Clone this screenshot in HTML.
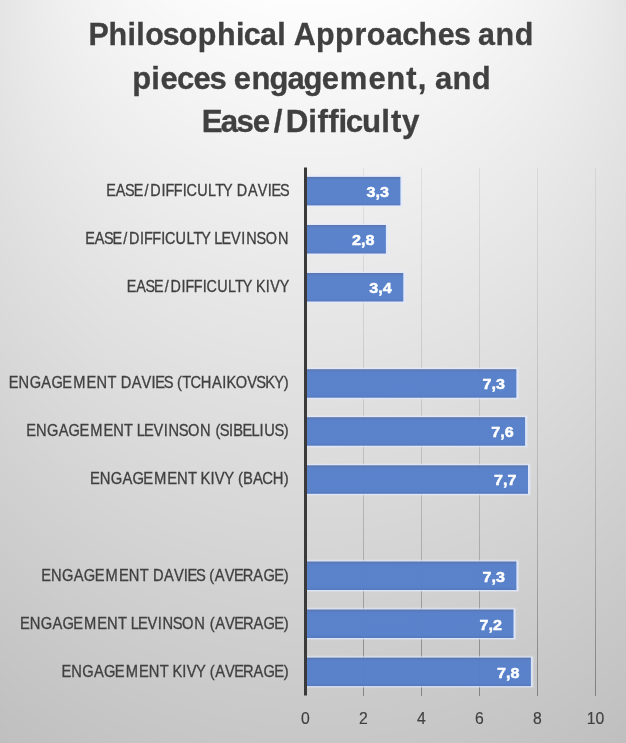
<!DOCTYPE html>
<html lang="en">
<head>
<meta charset="utf-8">
<title>Philosophical Approaches and pieces engagement, and Ease/Difficulty</title>
<style>
html,body{margin:0;padding:0;background:#d9d9d9;}
body{width:626px;height:743px;overflow:hidden;}
svg{display:block;}
text{font-family:"Liberation Sans",sans-serif;white-space:pre;}
.title{font-weight:bold;fill:#404040;stroke:#404040;stroke-width:0.3px;}
.cat{fill:#404040;stroke:#404040;stroke-width:0.3px;}
.val{font-weight:bold;fill:#fff;stroke:#fff;stroke-width:0.45px;}
.ax{fill:#404040;stroke:#404040;stroke-width:0.15px;}
</style>
</head>
<body>
<svg width="626" height="743" viewBox="0 0 626 743">
<defs>
<linearGradient id="gl" gradientUnits="userSpaceOnUse" x1="0" y1="168" x2="0" y2="696">
<stop offset="0" stop-color="#000" stop-opacity="0.065"/>
<stop offset="0.5" stop-color="#000" stop-opacity="0.12"/>
<stop offset="0.75" stop-color="#000" stop-opacity="0.2"/>
<stop offset="1" stop-color="#000" stop-opacity="0.35"/>
</linearGradient>
<linearGradient id="bar" x1="0" y1="0" x2="0" y2="1">
<stop offset="0" stop-color="#46629f"/>
<stop offset="0.11" stop-color="#4472c4"/>
<stop offset="0.9" stop-color="#4472c4"/>
<stop offset="1" stop-color="#3f66b2"/>
</linearGradient>
<clipPath id="vp"><rect x="0" y="0" width="626" height="743"/></clipPath>
</defs>
<rect x="0" y="0" width="626" height="743" fill="#bfbfbf"/>
<g clip-path="url(#vp)">
<path fill="#c0c0c0" d="M313 -594.4L730.87 123.75A483.46 483.46 0 1 1 -104.87 123.75Z"/>
<path fill="#c1c1c1" d="M313 -594.4L726.87 116.87A478.83 478.83 0 1 1 -100.87 116.87Z"/>
<path fill="#c2c2c2" d="M313 -594.4L722.87 109.99A474.20 474.20 0 1 1 -96.87 109.99Z"/>
<path fill="#c3c3c3" d="M313 -594.4L718.87 103.12A469.57 469.57 0 1 1 -92.87 103.12Z"/>
<path fill="#c4c4c4" d="M313 -594.4L714.86 96.24A464.94 464.94 0 1 1 -88.86 96.24Z"/>
<path fill="#c5c5c5" d="M313 -594.4L710.86 89.36A460.31 460.31 0 1 1 -84.86 89.36Z"/>
<path fill="#c6c6c6" d="M313 -594.4L706.86 82.48A455.68 455.68 0 1 1 -80.86 82.48Z"/>
<path fill="#c7c7c7" d="M313 -594.4L702.86 75.61A451.05 451.05 0 1 1 -76.86 75.61Z"/>
<path fill="#c8c8c8" d="M313 -594.4L698.86 68.73A446.42 446.42 0 1 1 -72.86 68.73Z"/>
<path fill="#c9c9c9" d="M313 -594.4L694.85 61.85A441.79 441.79 0 1 1 -68.85 61.85Z"/>
<path fill="#cacaca" d="M313 -594.4L690.85 54.97A437.16 437.16 0 1 1 -64.85 54.97Z"/>
<path fill="#cbcbcb" d="M313 -594.4L686.85 48.09A432.53 432.53 0 1 1 -60.85 48.09Z"/>
<path fill="#cccccc" d="M313 -594.4L682.85 41.22A427.90 427.90 0 1 1 -56.85 41.22Z"/>
<path fill="#cdcdcd" d="M313 -594.4L678.85 34.34A423.27 423.27 0 1 1 -52.85 34.34Z"/>
<path fill="#cecece" d="M313 -594.4L674.84 27.46A418.64 418.64 0 1 1 -48.84 27.46Z"/>
<path fill="#cfcfcf" d="M313 -594.4L670.84 20.58A414.01 414.01 0 1 1 -44.84 20.58Z"/>
<path fill="#d0d0d0" d="M313 -594.4L666.84 13.71A409.38 409.38 0 1 1 -40.84 13.71Z"/>
<path fill="#d1d1d1" d="M313 -594.4L662.84 6.83A404.75 404.75 0 1 1 -36.84 6.83Z"/>
<path fill="#d2d2d2" d="M313 -594.4L658.84 -0.05A400.12 400.12 0 1 1 -32.84 -0.05Z"/>
<path fill="#d3d3d3" d="M313 -594.4L654.84 -6.93A395.49 395.49 0 1 1 -28.84 -6.93Z"/>
<path fill="#d4d4d4" d="M313 -594.4L650.83 -13.80A390.86 390.86 0 1 1 -24.83 -13.80Z"/>
<path fill="#d5d5d5" d="M313 -594.4L646.83 -20.68A386.23 386.23 0 1 1 -20.83 -20.68Z"/>
<path fill="#d6d6d6" d="M313 -594.4L642.83 -27.56A381.60 381.60 0 1 1 -16.83 -27.56Z"/>
<path fill="#d7d7d7" d="M313 -594.4L638.83 -34.44A376.97 376.97 0 1 1 -12.83 -34.44Z"/>
<path fill="#d8d8d8" d="M313 -594.4L634.83 -41.31A372.34 372.34 0 1 1 -8.83 -41.31Z"/>
<path fill="#d9d9d9" d="M313 -594.4L630.82 -48.19A367.71 367.71 0 1 1 -4.82 -48.19Z"/>
<path fill="#dadada" d="M313 -594.4L626.82 -55.07A363.08 363.08 0 1 1 -0.82 -55.07Z"/>
<path fill="#dbdbdb" d="M313 -594.4L622.82 -61.95A358.45 358.45 0 1 1 3.18 -61.95Z"/>
<path fill="#dcdcdc" d="M313 -594.4L618.82 -68.82A353.82 353.82 0 1 1 7.18 -68.82Z"/>
<path fill="#dddddd" d="M313 -594.4L614.82 -75.70A349.19 349.19 0 1 1 11.18 -75.70Z"/>
<path fill="#dedede" d="M313 -594.4L610.81 -82.58A344.56 344.56 0 1 1 15.19 -82.58Z"/>
<path fill="#dfdfdf" d="M313 -594.4L606.81 -89.46A339.93 339.93 0 1 1 19.19 -89.46Z"/>
<path fill="#e0e0e0" d="M313 -594.4L602.81 -96.34A335.30 335.30 0 1 1 23.19 -96.34Z"/>
<path fill="#e1e1e1" d="M313 -594.4L598.81 -103.21A330.67 330.67 0 1 1 27.19 -103.21Z"/>
<path fill="#e2e2e2" d="M313 -594.4L594.81 -110.09A326.04 326.04 0 1 1 31.19 -110.09Z"/>
<path fill="#e3e3e3" d="M313 -594.4L590.80 -116.97A321.41 321.41 0 1 1 35.20 -116.97Z"/>
<path fill="#e4e4e4" d="M313 -594.4L586.80 -123.85A316.78 316.78 0 1 1 39.20 -123.85Z"/>
<path fill="#e5e5e5" d="M313 -594.4L582.80 -130.72A312.15 312.15 0 1 1 43.20 -130.72Z"/>
<path fill="#e6e6e6" d="M313 -594.4L578.80 -137.60A307.52 307.52 0 1 1 47.20 -137.60Z"/>
<path fill="#e7e7e7" d="M313 -594.4L574.80 -144.48A302.89 302.89 0 1 1 51.20 -144.48Z"/>
<path fill="#e8e8e8" d="M313 -594.4L570.80 -151.36A298.26 298.26 0 1 1 55.20 -151.36Z"/>
<path fill="#e9e9e9" d="M313 -594.4L566.79 -158.23A293.63 293.63 0 1 1 59.21 -158.23Z"/>
<path fill="#eaeaea" d="M313 -594.4L562.79 -165.11A289.00 289.00 0 1 1 63.21 -165.11Z"/>
<path fill="#ebebeb" d="M313 -594.4L558.79 -171.99A284.37 284.37 0 1 1 67.21 -171.99Z"/>
<path fill="#ececec" d="M313 -594.4L554.79 -178.87A279.74 279.74 0 1 1 71.21 -178.87Z"/>
<path fill="#ededed" d="M313 -594.4L550.79 -185.74A275.11 275.11 0 1 1 75.21 -185.74Z"/>
<path fill="#eeeeee" d="M313 -594.4L546.78 -192.62A270.48 270.48 0 1 1 79.22 -192.62Z"/>
<path fill="#efefef" d="M313 -594.4L542.78 -199.50A265.85 265.85 0 1 1 83.22 -199.50Z"/>
<path fill="#f0f0f0" d="M313 -594.4L538.78 -206.38A261.22 261.22 0 1 1 87.22 -206.38Z"/>
<path fill="#f1f1f1" d="M313 -594.4L534.78 -213.26A256.59 256.59 0 1 1 91.22 -213.26Z"/>
<path fill="#f2f2f2" d="M313 -594.4L530.78 -220.13A251.96 251.96 0 1 1 95.22 -220.13Z"/>
<path fill="#f3f3f3" d="M313 -594.4L526.77 -227.01A247.33 247.33 0 1 1 99.23 -227.01Z"/>
<path fill="#f4f4f4" d="M313 -594.4L522.77 -233.89A242.70 242.70 0 1 1 103.23 -233.89Z"/>
<path fill="#f5f5f5" d="M313 -594.4L518.77 -240.77A238.07 238.07 0 1 1 107.23 -240.77Z"/>
<path fill="#f6f6f6" d="M313 -594.4L514.77 -247.64A233.44 233.44 0 1 1 111.23 -247.64Z"/>
<path fill="#f7f7f7" d="M313 -594.4L510.77 -254.52A228.81 228.81 0 1 1 115.23 -254.52Z"/>
<path fill="#f8f8f8" d="M313 -594.4L506.76 -261.40A224.18 224.18 0 1 1 119.24 -261.40Z"/>
<path fill="#f9f9f9" d="M313 -594.4L502.76 -268.28A219.55 219.55 0 1 1 123.24 -268.28Z"/>
<path fill="#fafafa" d="M313 -594.4L498.76 -275.15A214.92 214.92 0 1 1 127.24 -275.15Z"/>
<path fill="#fbfbfb" d="M313 -594.4L494.76 -282.03A210.29 210.29 0 1 1 131.24 -282.03Z"/>
<path fill="#fcfcfc" d="M313 -594.4L490.76 -288.91A205.66 205.66 0 1 1 135.24 -288.91Z"/>
<path fill="#fdfdfd" d="M313 -594.4L486.75 -295.79A201.03 201.03 0 1 1 139.25 -295.79Z"/>
<path fill="#fefefe" d="M313 -594.4L482.75 -302.66A196.40 196.40 0 1 1 143.25 -302.66Z"/>
<path fill="#ffffff" d="M313 -594.4L478.75 -309.54A191.77 191.77 0 1 1 147.25 -309.54Z"/>
</g>
<rect x="363" y="168" width="1" height="528" fill="url(#gl)"/>
<rect x="421" y="168" width="1" height="528" fill="url(#gl)"/>
<rect x="479" y="168" width="1" height="528" fill="url(#gl)"/>
<rect x="537" y="168" width="1" height="528" fill="url(#gl)"/>
<rect x="595" y="168" width="1" height="528" fill="url(#gl)"/>
<rect x="306.5" y="174.9" width="96.7" height="32.5" fill="#e6edff" fill-opacity="0.3"/>
<rect x="306.5" y="175.9" width="95.7" height="30.5" fill="#dfe8ff" fill-opacity="0.75"/>
<rect x="306.5" y="176.9" width="93.9" height="28.5" fill="url(#bar)" fill-opacity="0.86"/>
<rect x="306.5" y="223.0" width="82.2" height="32.5" fill="#e6edff" fill-opacity="0.3"/>
<rect x="306.5" y="224.0" width="81.2" height="30.5" fill="#dfe8ff" fill-opacity="0.75"/>
<rect x="306.5" y="225.0" width="79.4" height="28.5" fill="url(#bar)" fill-opacity="0.86"/>
<rect x="306.5" y="271.0" width="99.6" height="32.5" fill="#e6edff" fill-opacity="0.3"/>
<rect x="306.5" y="272.0" width="98.6" height="30.5" fill="#dfe8ff" fill-opacity="0.75"/>
<rect x="306.5" y="273.0" width="96.8" height="28.5" fill="url(#bar)" fill-opacity="0.86"/>
<rect x="306.5" y="367.2" width="212.7" height="32.5" fill="#e6edff" fill-opacity="0.3"/>
<rect x="306.5" y="368.2" width="211.7" height="30.5" fill="#dfe8ff" fill-opacity="0.75"/>
<rect x="306.5" y="369.2" width="209.9" height="28.5" fill="url(#bar)" fill-opacity="0.86"/>
<rect x="306.5" y="415.2" width="221.4" height="32.5" fill="#e6edff" fill-opacity="0.3"/>
<rect x="306.5" y="416.2" width="220.4" height="30.5" fill="#dfe8ff" fill-opacity="0.75"/>
<rect x="306.5" y="417.2" width="218.6" height="28.5" fill="url(#bar)" fill-opacity="0.86"/>
<rect x="306.5" y="463.3" width="224.3" height="32.5" fill="#e6edff" fill-opacity="0.3"/>
<rect x="306.5" y="464.3" width="223.3" height="30.5" fill="#dfe8ff" fill-opacity="0.75"/>
<rect x="306.5" y="465.3" width="221.5" height="28.5" fill="url(#bar)" fill-opacity="0.86"/>
<rect x="306.5" y="559.5" width="212.7" height="32.5" fill="#e6edff" fill-opacity="0.3"/>
<rect x="306.5" y="560.5" width="211.7" height="30.5" fill="#dfe8ff" fill-opacity="0.75"/>
<rect x="306.5" y="561.5" width="209.9" height="28.5" fill="url(#bar)" fill-opacity="0.86"/>
<rect x="306.5" y="607.5" width="209.8" height="32.5" fill="#e6edff" fill-opacity="0.3"/>
<rect x="306.5" y="608.5" width="208.8" height="30.5" fill="#dfe8ff" fill-opacity="0.75"/>
<rect x="306.5" y="609.5" width="207.0" height="28.5" fill="url(#bar)" fill-opacity="0.86"/>
<rect x="306.5" y="655.6" width="227.2" height="32.5" fill="#e6edff" fill-opacity="0.3"/>
<rect x="306.5" y="656.6" width="226.2" height="30.5" fill="#dfe8ff" fill-opacity="0.75"/>
<rect x="306.5" y="657.6" width="224.4" height="28.5" fill="url(#bar)" fill-opacity="0.86"/>
<rect x="304" y="167.5" width="3" height="528" fill="#3a3a3a"/>
<text class="cat" font-size="15.70" transform="translate(106.50 195.80) scale(0.9170 1)" x="-0.4 10.07 20.24 29.63 41.35 47.79 59.87 64.3 73.41 83.07 87.36 99 110.82 118.66 127.15 137.28 142.12 154.24 165.02 175.76 180.04 189.33">EASE/DIFFICULTY DAVIES</text>
<text class="val" font-size="14.11" transform="translate(366.47 196.90) scale(1.1433 1)" x="-0.01 7.85 11.78">3,3</text>
<text class="cat" font-size="15.70" transform="translate(85.76 243.87) scale(0.9206 1)" x="-0.46 9.86 19.91 29.17 40.78 47.08 59.04 63.38 72.37 81.94 86.12 97.61 109.3 117.02 125.39 135.42 139.56 147.57 157.89 168.96 174.24 185.48 195.57 208.79">EASE/DIFFICULTY LEVINSON</text>
<text class="val" font-size="14.11" transform="translate(351.97 244.97) scale(1.1433 1)" x="-0.01 7.85 11.78">2,8</text>
<text class="cat" font-size="15.70" transform="translate(127.02 291.94) scale(0.9141 1)" x="-0.42 10.01 20.15 29.5 41.19 47.58 59.63 64.04 73.1 82.74 87 98.6 110.38 118.19 126.64 136.74 141.04 151.71 156.74 167.15">EASE/DIFFICULTY KIVY</text>
<text class="val" font-size="14.11" transform="translate(369.37 293.04) scale(1.1433 1)" x="-0.01 7.85 11.78">3,4</text>
<text class="cat" font-size="15.70" transform="translate(9.14 387.88) scale(0.9325 1)" x="-0.5 10.05 21.98 34.57 45.35 56.99 68.71 83.02 93.58 105.43 114.96 119.62 131.48 142.02 152.59 156.71 165.8 175.4 180.1 185.58 194.4 205.4 217.48 228.58 233 243.12 255.33 265.1 274.53 284.29 294.57">ENGAGEMENT DAVIES (TCHAIKOVSKY)</text>
<text class="val" font-size="14.11" transform="translate(482.47 389.02) scale(1.1433 1)" x="-0.01 7.85 11.78">7,3</text>
<text class="cat" font-size="15.70" transform="translate(26.80 435.95) scale(0.9336 1)" x="-0.55 9.88 21.68 34.15 44.8 56.33 67.91 82.09 92.52 104.26 113.71 117.72 125.57 135.69 146.6 151.71 162.74 172.62 185.59 197.44 202.08 206.77 216.65 221.22 231.12 240.7 249.33 254.41 265.4 275.33">ENGAGEMENT LEVINSON (SIBELIUS)</text>
<text class="val" font-size="14.11" transform="translate(491.17 437.09) scale(1.1433 1)" x="-0.01 7.85 11.78">7,6</text>
<text class="cat" font-size="15.70" transform="translate(90.68 484.02) scale(0.9440 1)" x="-0.61 9.71 21.38 33.72 44.24 55.66 67.09 81.13 91.45 103.06 112.44 116.46 126.83 131.54 141.54 151.36 155.95 161.36 171.91 181.86 192.75 204.59">ENGAGEMENT KIVY (BACH)</text>
<text class="val" font-size="14.11" transform="translate(494.07 485.16) scale(1.1433 1)" x="-0.01 7.85 11.78">7,7</text>
<text class="cat" font-size="15.70" transform="translate(41.66 580.76) scale(0.9358 1)" x="-0.53 9.97 21.84 34.37 45.09 56.68 68.33 82.59 93.08 104.88 114.37 119 130.8 141.29 151.82 155.91 164.95 174.52 179.19 185.07 195.7 205.46 214.97 226.22 236.94 248.53 258.78">ENGAGEMENT DAVIES (AVERAGE)</text>
<text class="val" font-size="14.11" transform="translate(482.47 581.78) scale(1.1433 1)" x="-0.01 7.85 11.78">7,3</text>
<text class="cat" font-size="15.70" transform="translate(20.47 628.83) scale(0.9387 1)" x="-0.57 9.85 21.62 34.05 44.68 56.18 67.73 81.88 92.29 104 113.44 117.43 125.25 135.35 146.24 151.34 162.34 172.2 185.14 196.96 201.59 207.41 217.95 227.63 237.06 248.22 258.85 270.35 280.55">ENGAGEMENT LEVINSON (AVERAGE)</text>
<text class="val" font-size="14.11" transform="translate(479.57 629.85) scale(1.1433 1)" x="-0.01 7.85 11.78">7,2</text>
<text class="cat" font-size="15.70" transform="translate(62.08 676.90) scale(0.9359 1)" x="-0.55 9.89 21.69 34.16 44.82 56.36 67.94 82.12 92.56 104.3 113.76 117.86 128.31 133.11 143.23 153.13 157.77 163.61 174.18 183.89 193.35 204.54 215.2 226.73 236.94">ENGAGEMENT KIVY (AVERAGE)</text>
<text class="val" font-size="14.11" transform="translate(496.97 677.92) scale(1.1433 1)" x="-0.01 7.85 11.78">7,8</text>
<text class="ax" font-size="15.79" transform="translate(301.11 724.00) scale(0.9986 1)" x="0">0</text>
<text class="ax" font-size="15.79" transform="translate(359.11 724.00) scale(0.9986 1)" x="0">2</text>
<text class="ax" font-size="15.79" transform="translate(417.11 724.00) scale(0.9986 1)" x="0">4</text>
<text class="ax" font-size="15.79" transform="translate(475.11 724.00) scale(0.9986 1)" x="0">6</text>
<text class="ax" font-size="15.79" transform="translate(533.11 724.00) scale(0.9986 1)" x="0">8</text>
<text class="ax" font-size="15.79" transform="translate(586.73 724.00) scale(0.9986 1)" x="0 8.78">10</text>
<text class="title" font-size="31.18" transform="translate(89.12 45.20) scale(0.9773 1)" x="-0.66 19.76 39.26 48.24 57.38 75.36 91.64 111.28 130.91 150.41 158.22 174.8 192.55 201.18 209.47 232.1 251.73 271.5 284.16 303.65 320.33 336.95 356.82 373.33 389.1 397.92 415.91 435.54">Philosophical Approaches and</text>
<text class="title" font-size="31.18" transform="translate(132.08 88.50) scale(0.9932 1)" x="0.13 19.41 28.55 45.14 61.73 77.97 93.56 102.35 120.22 138.41 156.37 172.63 190.88 209.2 238.09 255.96 276.02 287.59 296.3 304.92 322.61 341.93">pieces engagement, and</text>
<text class="title" font-size="31.18" transform="translate(203.50 132.20) scale(1.0043 1)" x="-1.72 17.25 32.9 48.96 69.9 81.85 104.36 113.51 124.2 134.36 141.71 157.85 176.97 186.65 197.77">Ease/Difficulty</text>
</svg>
</body>
</html>
